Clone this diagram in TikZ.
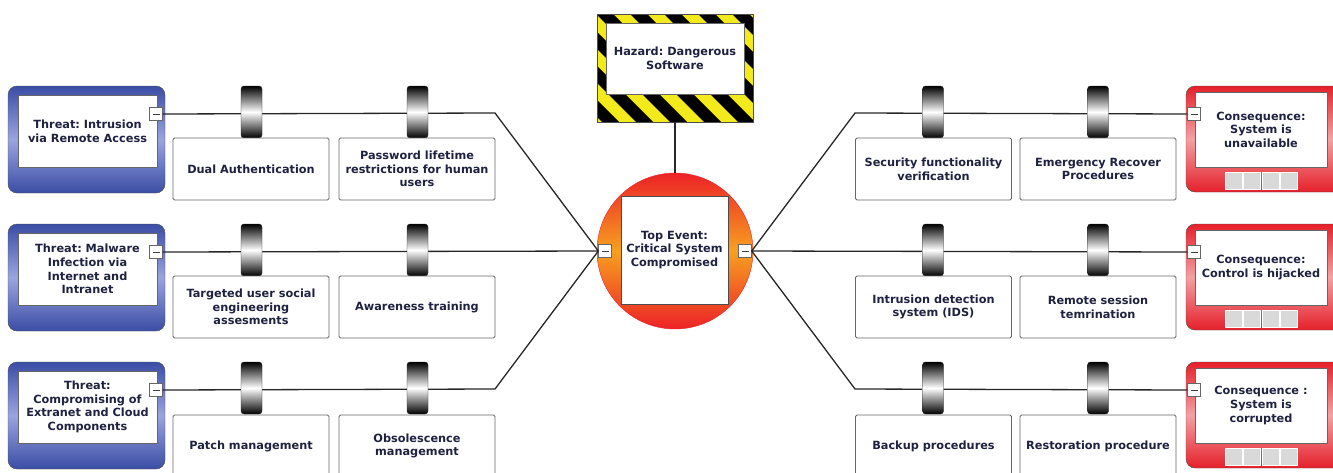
\documentclass[tikz,border=0pt]{standalone}
\usepackage{fontspec}
\setmainfont{DejaVu Sans}
\frenchspacing
\definecolor{txtc}{HTML}{1E2140}
\definecolor{thrblue}{HTML}{3B4DA5}
\definecolor{thrlight}{HTML}{9AA4DE}
\definecolor{conred}{HTML}{E5202A}
\definecolor{conlight}{HTML}{F4A0A4}
\definecolor{topred}{HTML}{EC2227}
\definecolor{toporange}{HTML}{F7A020}
\definecolor{hazyellow}{HTML}{F2EA1A}
\definecolor{sqgrey}{HTML}{D9D9D9}
\begin{document}
\begin{tikzpicture}[x=1pt,y=-1pt,
  txt/.style={font=\bfseries\fontsize{11.3}{13.6}\selectfont, text=txtc, align=center},
  barbox/.style={draw=black!60, line width=0.8pt, fill=white, rounded corners=1.5pt, minimum width=156pt, minimum height=62pt, inner sep=0pt, txt},
  slice/.style={draw=black!85, rounded corners=3pt, minimum width=21pt, minimum height=52pt, inner sep=0pt, top color=black, bottom color=black, middle color=white},
  throuter/.style={draw=black!70, rounded corners=9pt, minimum width=157pt, minimum height=107pt, inner sep=0pt, top color=thrblue, bottom color=thrblue, middle color=thrlight},
  thrinner/.style={draw=black!60, fill=white, minimum width=139pt, minimum height=72pt, inner sep=0pt, txt},
  conouter/.style={draw=black!70, rounded corners=9pt, minimum width=159pt, minimum height=106pt, inner sep=0pt, top color=conred, bottom color=conred, middle color=conlight},
  coninner/.style={draw=black!60, fill=white, minimum width=132pt, minimum height=75pt, inner sep=0pt, txt},
  minus/.style={draw=black!60, fill=white, minimum size=13pt, inner sep=0pt, path picture={\draw[black!75, line width=1pt] ([xshift=-3.5pt]path picture bounding box.center) -- ([xshift=3.5pt]path picture bounding box.center);}},
  sq/.style={draw=white, fill=sqgrey, minimum size=17pt, inner sep=0pt},
  conn/.style={draw=black!85, line width=1.3pt}
]
\useasboundingbox (0,0) rectangle (1333,472);

% ---------- Hazard ----------
\begin{scope}
  \clip (597,14) rectangle (753,122);
  \fill[hazyellow] (597,14) rectangle (753,122);
  \foreach \s in {0,34,...,374} {
    \fill[black] (460+\s,14) -- (477+\s,14) -- (585+\s,122) -- (568+\s,122) -- cycle;
  }
\end{scope}
\node[draw=black!70, minimum width=156pt, minimum height=108pt, inner sep=0pt] (hazo) at (675,68) {};
\node[draw=black!60, fill=white, minimum width=138pt, minimum height=71pt, inner sep=0pt, txt] (haz) at (675,58.5) {Hazard: Dangerous\\Software};

% ---------- Top event ----------
\node[circle, minimum size=156pt, inner sep=0pt, top color=topred, bottom color=topred, middle color=toporange, draw=topred] (topc) at (675,251) {};
\node[draw=black!70, fill=white, minimum width=107pt, minimum height=108pt, inner sep=0pt, txt] (top) at (674.5,250) {Top Event:\\Critical System\\Compromised};
\node[minus] (tml) at (605,251) {};
\node[minus] (tmr) at (745,251) {};
\draw[conn] (hazo.south) -- (topc.north);

% ---------- Threats ----------
\node[throuter] (thr1o) at (86.5,139.5) {};
\node[thrinner] (thr1) at (87.5,131) {Threat: Intrusion\\via Remote Access};
\node[minus] (thm1) at (156,114) {};
\node[throuter] (thr2o) at (86.5,277.5) {};
\node[thrinner] (thr2) at (87.5,269) {Threat: Malware\\Infection via\\Internet and\\Intranet};
\node[minus] (thm2) at (156,252) {};
\node[throuter] (thr3o) at (86.5,415.5) {};
\node[thrinner] (thr3) at (87.5,407) {Threat:\\Compromising of\\Extranet and Cloud\\Components};
\node[minus] (thm3) at (156,390) {};

% ---------- Consequences ----------
\node[conouter] (con1o) at (1265.5,139) {};
\node[coninner] (con1) at (1261,129.5) {Consequence:\\System is\\unavailable};
\node[minus] (cm1) at (1194,114) {};
\node[conouter] (con2o) at (1265.5,277) {};
\node[coninner] (con2) at (1261,267.5) {Consequence:\\Control is hijacked};
\node[minus] (cm2) at (1194,252) {};
\node[conouter] (con3o) at (1265.5,415) {};
\node[coninner] (con3) at (1261,405.5) {Consequence :\\System is\\corrupted};
\node[minus] (cm3) at (1194,390) {};
\foreach \r/\yy in {1/181,2/319,3/457} {
  \foreach \k/\xx in {1/1233.25,2/1251.75,3/1270.25,4/1288.75} {
    \node[sq] (sq\r\k) at (\xx,\yy) {};
  }
}

% ---------- Connectors ----------
\coordinate (lb1) at (495,113);
\coordinate (lb3) at (495,389);
\coordinate (rb1) at (855,113);
\coordinate (rb3) at (855,389);
\draw[conn] (thm1.east) -- (lb1) -- (tml.west);
\draw[conn] (thm2.east) -- (tml.west);
\draw[conn] (thm3.east) -- (lb3) -- (tml.west);
\draw[conn] (tmr.east) -- (rb1) -- (cm1.west);
\draw[conn] (tmr.east) -- (cm2.west);
\draw[conn] (tmr.east) -- (rb3) -- (cm3.west);

% ---------- Barriers ----------
\node[slice] (sl11) at (251.5,112) {};
\node[slice] (sl12) at (417.5,112) {};
\node[slice] (sl21) at (251.5,250) {};
\node[slice] (sl22) at (417.5,250) {};
\node[slice] (sl31) at (251.5,388) {};
\node[slice] (sl32) at (417.5,388) {};
\node[slice] (sr11) at (933,112) {};
\node[slice] (sr12) at (1098,112) {};
\node[slice] (sr21) at (933,250) {};
\node[slice] (sr22) at (1098,250) {};
\node[slice] (sr31) at (933,388) {};
\node[slice] (sr32) at (1098,388) {};

\node[barbox] (bl11) at (251,169) {Dual Authentication};
\node[barbox] (bl12) at (417,169) {Password lifetime\\restrictions for human\\users};
\node[barbox] (bl21) at (251,307) {Targeted user social\\engineering\\assesments};
\node[barbox] (bl22) at (417,307) {Awareness training};
\node[barbox] (bl31) at (251,446) {Patch management};
\node[barbox] (bl32) at (417,446) {Obsolescence\\management};

\node[barbox] (br11) at (933.5,169) {Security functionality\\verification};
\node[barbox] (br12) at (1098,169) {Emergency Recover\\Procedures};
\node[barbox] (br21) at (933.5,307) {Intrusion detection\\system (IDS)};
\node[barbox] (br22) at (1098,307) {Remote session\\temrination};
\node[barbox] (br31) at (933.5,446) {Backup procedures};
\node[barbox] (br32) at (1098,446) {Restoration procedure};
\end{tikzpicture}
\end{document}
